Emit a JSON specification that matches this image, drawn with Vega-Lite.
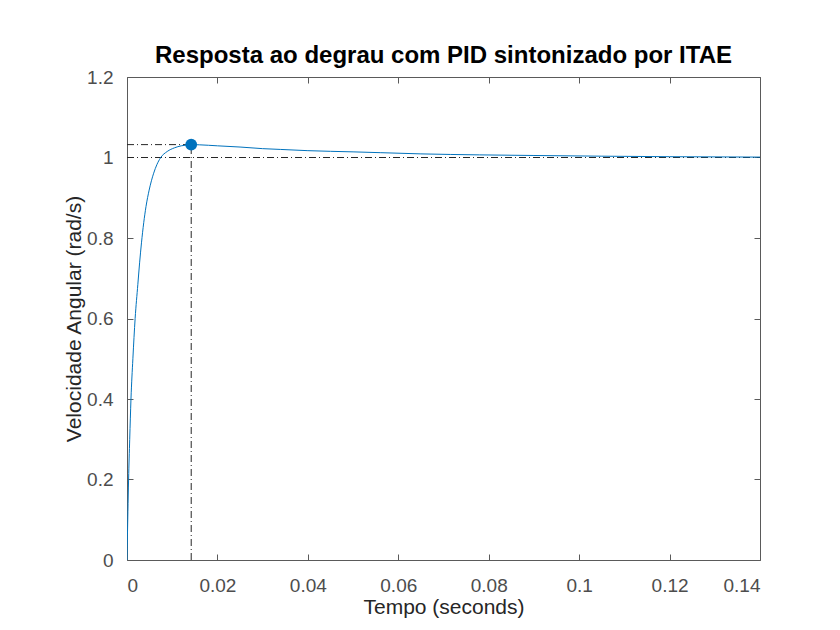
{
  "$schema": "https://vega.github.io/schema/vega-lite/v6.json",
  "width": 633,
  "height": 483,
  "autosize": "none",
  "padding": {"left": 127, "top": 77, "right": 80, "bottom": 70},
  "background": "white",
  "config": {
    "font": "Liberation Sans",
    "view": {"stroke": "#5a5a5a", "strokeWidth": 1},
    "axis": {
      "grid": false,
      "domain": false,
      "tickColor": "#5a5a5a",
      "tickSize": -6,
      "labelColor": "#4d4d4d",
      "labelFontSize": 19,
      "labelFont": "Liberation Sans",
      "titleColor": "#262626",
      "titleFontSize": 21,
      "titleFontWeight": "normal",
      "titleFont": "Liberation Sans"
    }
  },
  "title": {
    "text": "Resposta ao degrau com PID sintonizado por ITAE",
    "fontSize": 24,
    "fontWeight": "bold",
    "color": "#000000",
    "font": "Liberation Sans",
    "offset": 0
  },
  "datasets": {
    "resp": [
      {"t": 0, "y": 0},
      {"t": 0.0002, "y": 0.12},
      {"t": 0.00035, "y": 0.2},
      {"t": 0.0006, "y": 0.3},
      {"t": 0.00088, "y": 0.4},
      {"t": 0.0013, "y": 0.5},
      {"t": 0.0018, "y": 0.6},
      {"t": 0.0024, "y": 0.685},
      {"t": 0.0028, "y": 0.74},
      {"t": 0.0032, "y": 0.788},
      {"t": 0.0037, "y": 0.838},
      {"t": 0.0042, "y": 0.878},
      {"t": 0.0049, "y": 0.919},
      {"t": 0.0059, "y": 0.961},
      {"t": 0.0066, "y": 0.982},
      {"t": 0.0074, "y": 0.999},
      {"t": 0.0089, "y": 1.015},
      {"t": 0.0105, "y": 1.024},
      {"t": 0.012, "y": 1.029},
      {"t": 0.0132, "y": 1.031},
      {"t": 0.0142, "y": 1.032},
      {"t": 0.016, "y": 1.0315},
      {"t": 0.02, "y": 1.029},
      {"t": 0.025, "y": 1.026},
      {"t": 0.03, "y": 1.022},
      {"t": 0.034, "y": 1.02},
      {"t": 0.04, "y": 1.017},
      {"t": 0.05, "y": 1.014},
      {"t": 0.056, "y": 1.012},
      {"t": 0.065, "y": 1.009},
      {"t": 0.078, "y": 1.0065},
      {"t": 0.09, "y": 1.005},
      {"t": 0.105, "y": 1.0033},
      {"t": 0.12, "y": 1.002},
      {"t": 0.14, "y": 1.001}
    ],
    "refs": [
      {"x": 0, "x2": 0.14, "y": 1, "y2": 1},
      {"x": 0, "x2": 0.0142, "y": 1.032, "y2": 1.032},
      {"x": 0.0142, "x2": 0.0142, "y": 0, "y2": 1.032}
    ],
    "peak": [{"t": 0.0142, "y": 1.032}]
  },
  "resolve": {"axis": {"x": "independent", "y": "independent"}},
  "layer": [
    {
      "data": {"name": "refs"},
      "mark": {"type": "rule", "color": "#262626", "strokeWidth": 1, "strokeDash": [7, 3, 1, 3]},
      "encoding": {
        "x": {"field": "x", "type": "quantitative", "scale": {"domain": [0, 0.14], "nice": false, "zero": false}, "axis": {"values": [0, 0.02, 0.04, 0.06, 0.08, 0.1, 0.12, 0.14], "format": "~g", "title": "Tempo (seconds)", "labelPadding": 22, "titlePadding": 1}},
        "x2": {"field": "x2"},
        "y": {"field": "y", "type": "quantitative", "scale": {"domain": [0, 1.2], "nice": false, "zero": false}, "axis": {"values": [0, 0.2, 0.4, 0.6, 0.8, 1, 1.2], "format": "~g", "title": "Velocidade Angular (rad/s)", "labelPadding": 20, "titlePadding": 2}},
        "y2": {"field": "y2"}
      }
    },
    {
      "data": {"name": "resp"},
      "mark": {"type": "line", "color": "#0072BD", "strokeWidth": 1, "clip": true, "interpolate": "monotone"},
      "encoding": {
        "x": {"field": "t", "type": "quantitative", "axis": {"orient": "top", "values": [0, 0.02, 0.04, 0.06, 0.08, 0.1, 0.12, 0.14], "labels": false, "title": null}},
        "y": {"field": "y", "type": "quantitative", "axis": {"orient": "right", "values": [0, 0.2, 0.4, 0.6, 0.8, 1, 1.2], "labels": false, "title": null}}
      }
    },
    {
      "data": {"name": "peak"},
      "mark": {"type": "point", "filled": true, "shape": "circle", "size": 140, "color": "#0072BD", "opacity": 1},
      "encoding": {
        "x": {"field": "t", "type": "quantitative", "axis": null},
        "y": {"field": "y", "type": "quantitative", "axis": null}
      }
    }
  ]
}
